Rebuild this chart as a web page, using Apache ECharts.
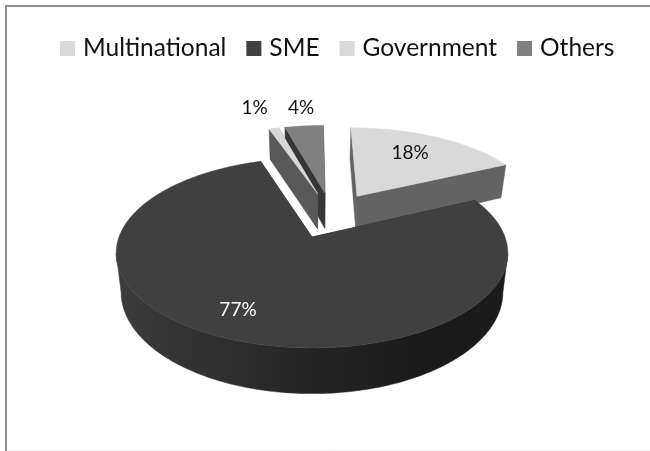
<!DOCTYPE html>
<html>
<head>
<meta charset="utf-8">
<script src="https://cdn.jsdelivr.net/npm/echarts@6/dist/echarts.min.js"></script>
<style>html,body{margin:0;padding:0;background:#fff}#chart{width:650px;height:451px}</style>
</head>
<body>
<div id="chart"></div>
<script>
// Customer segments, in percent, clockwise from twelve o'clock.
const categories = ['Multinational', 'SME', 'Government', 'Others'];
const shares = [18, 77, 1, 4];

// Face colours and label placement per segment.
const topColors = ['#d9d9d9', '#404040', '#d9d9d9', '#808080'];
const cutColors = ['#636363', '#2a2a2a', '#595959', '#363636'];
const labelColors = ['#111', '#fff', '#111', '#111'];
const labelRadii = [0.72, 0.75, 1.39, 1.34];
const labelNudges = [[-6, 0], [-9, 1], [-5, 1], [3, 1]];
const paintOrder = [3, 2, 0, 1];

// Perspective of the tilted disc.
const view = { x: 312, y: 237, radius: 193, height: 92.3, k: 0.168, depth: 38, shrink: 0.975 };
const explode = 0.27;
const anchor = 1;   // the segment whose tip sits at the view origin

const total = shares.reduce((a, b) => a + b, 0);
const starts = [];
shares.reduce((acc, s, i) => { starts[i] = acc; return acc + s; }, 0);
const toAngle = s => (s / total) * Math.PI * 2;
const midAngle = i => toAngle(starts[i] + shares[i] / 2);
const unit = a => [Math.sin(a), Math.cos(a)];

function offsetOf(i) {
  const m = unit(midAngle(i)), o = unit(midAngle(anchor));
  return [explode * (m[0] - o[0]), explode * (m[1] - o[1])];
}

function project(u, v, lower) {
  const d = 1 + view.k * v;
  const x = view.radius * u / d * (lower ? view.shrink : 1);
  const y = -view.height * v / d + (lower ? view.depth / d : 0);
  return [view.x + x, view.y + y];
}

function renderSlice(i) {
  const a0 = toAngle(starts[i]);
  const a1 = toAngle(starts[i] + shares[i]);
  const off = offsetOf(i);
  const steps = Math.max(4, Math.ceil((a1 - a0) * 60));
  const arc = [];
  const front = [];
  for (let n = 0; n <= steps; n++) {
    const p = unit(a0 + (a1 - a0) * n / steps);
    const q = [p[0] + off[0], p[1] + off[1]];
    arc.push(q);
    // The outer wall only shows on the near side of the disc.
    if (p[1] < -view.k) front.push(q);
  }
  const tip = off;
  const P = (q, lower) => project(q[0], q[1], lower);
  const poly = (points, fill) => ({
    type: 'polygon',
    shape: { points },
    style: { fill, stroke: fill, lineWidth: 0.5 }
  });
  const rimFill = new echarts.graphic.LinearGradient(0, 0, 1, 0, [
    { offset: 0, color: '#3c3c3c' },
    { offset: 0.5, color: '#242424' },
    { offset: 0.8, color: '#1a1a1a' },
    { offset: 1, color: '#1c1c1c' }
  ]);
  const first = arc[0], last = arc[arc.length - 1];
  const children = [
    poly([P(tip), P(first), P(first, true), P(tip, true)], cutColors[i]),
    poly([P(tip), P(last), P(last, true), P(tip, true)], cutColors[i])
  ];
  if (front.length > 1) {
    children.push(poly(front.map(q => P(q)).concat(front.slice().reverse().map(q => P(q, true))), rimFill));
  }
  children.push(poly([P(tip)].concat(arc.map(q => P(q))), topColors[i]));
  const m = unit(midAngle(i));
  const lp = P([m[0] * labelRadii[i] + off[0], m[1] * labelRadii[i] + off[1]]);
  children.push({
    type: 'text',
    z2: 10,
    style: {
      text: shares[i] + '%',
      x: lp[0] + labelNudges[i][0], y: lp[1] + labelNudges[i][1],
      align: 'center', verticalAlign: 'middle',
      fill: labelColors[i],
      font: '19px Lato, "Open Sans", sans-serif'
    }
  });
  return { type: 'group', children };
}

const chart = echarts.init(document.getElementById('chart'));
chart.setOption({
  backgroundColor: '#fff',
  animation: false,
  legend: {
    data: categories,
    left: 60,
    top: 36,
    icon: 'rect',
    itemWidth: 15,
    itemHeight: 15,
    itemGap: 20,
    padding: 0,
    selectedMode: false,
    textStyle: { fontFamily: 'Lato, "Open Sans", sans-serif', fontSize: 24.5, color: '#111', padding: [0, 0, 0, 3] }
  },
  graphic: [
    { type: 'line', silent: true, shape: { x1: 6, y1: 5, x2: 6, y2: 451 }, style: { stroke: '#8c8c8c', lineWidth: 2 } },
    { type: 'line', silent: true, shape: { x1: 5, y1: 6, x2: 650, y2: 6 }, style: { stroke: '#8c8c8c', lineWidth: 2 } },
    { type: 'line', silent: true, shape: { x1: 7, y1: 450, x2: 650, y2: 450 }, style: { stroke: '#f0f0f0', lineWidth: 1 } }
  ],
  series: paintOrder.map(i => ({
    type: 'custom',
    name: categories[i],
    coordinateSystem: 'none',
    silent: true,
    itemStyle: { color: topColors[i] },
    data: [[shares[i]]],
    renderItem: () => renderSlice(i)
  }))
});
</script>
</body>
</html>
